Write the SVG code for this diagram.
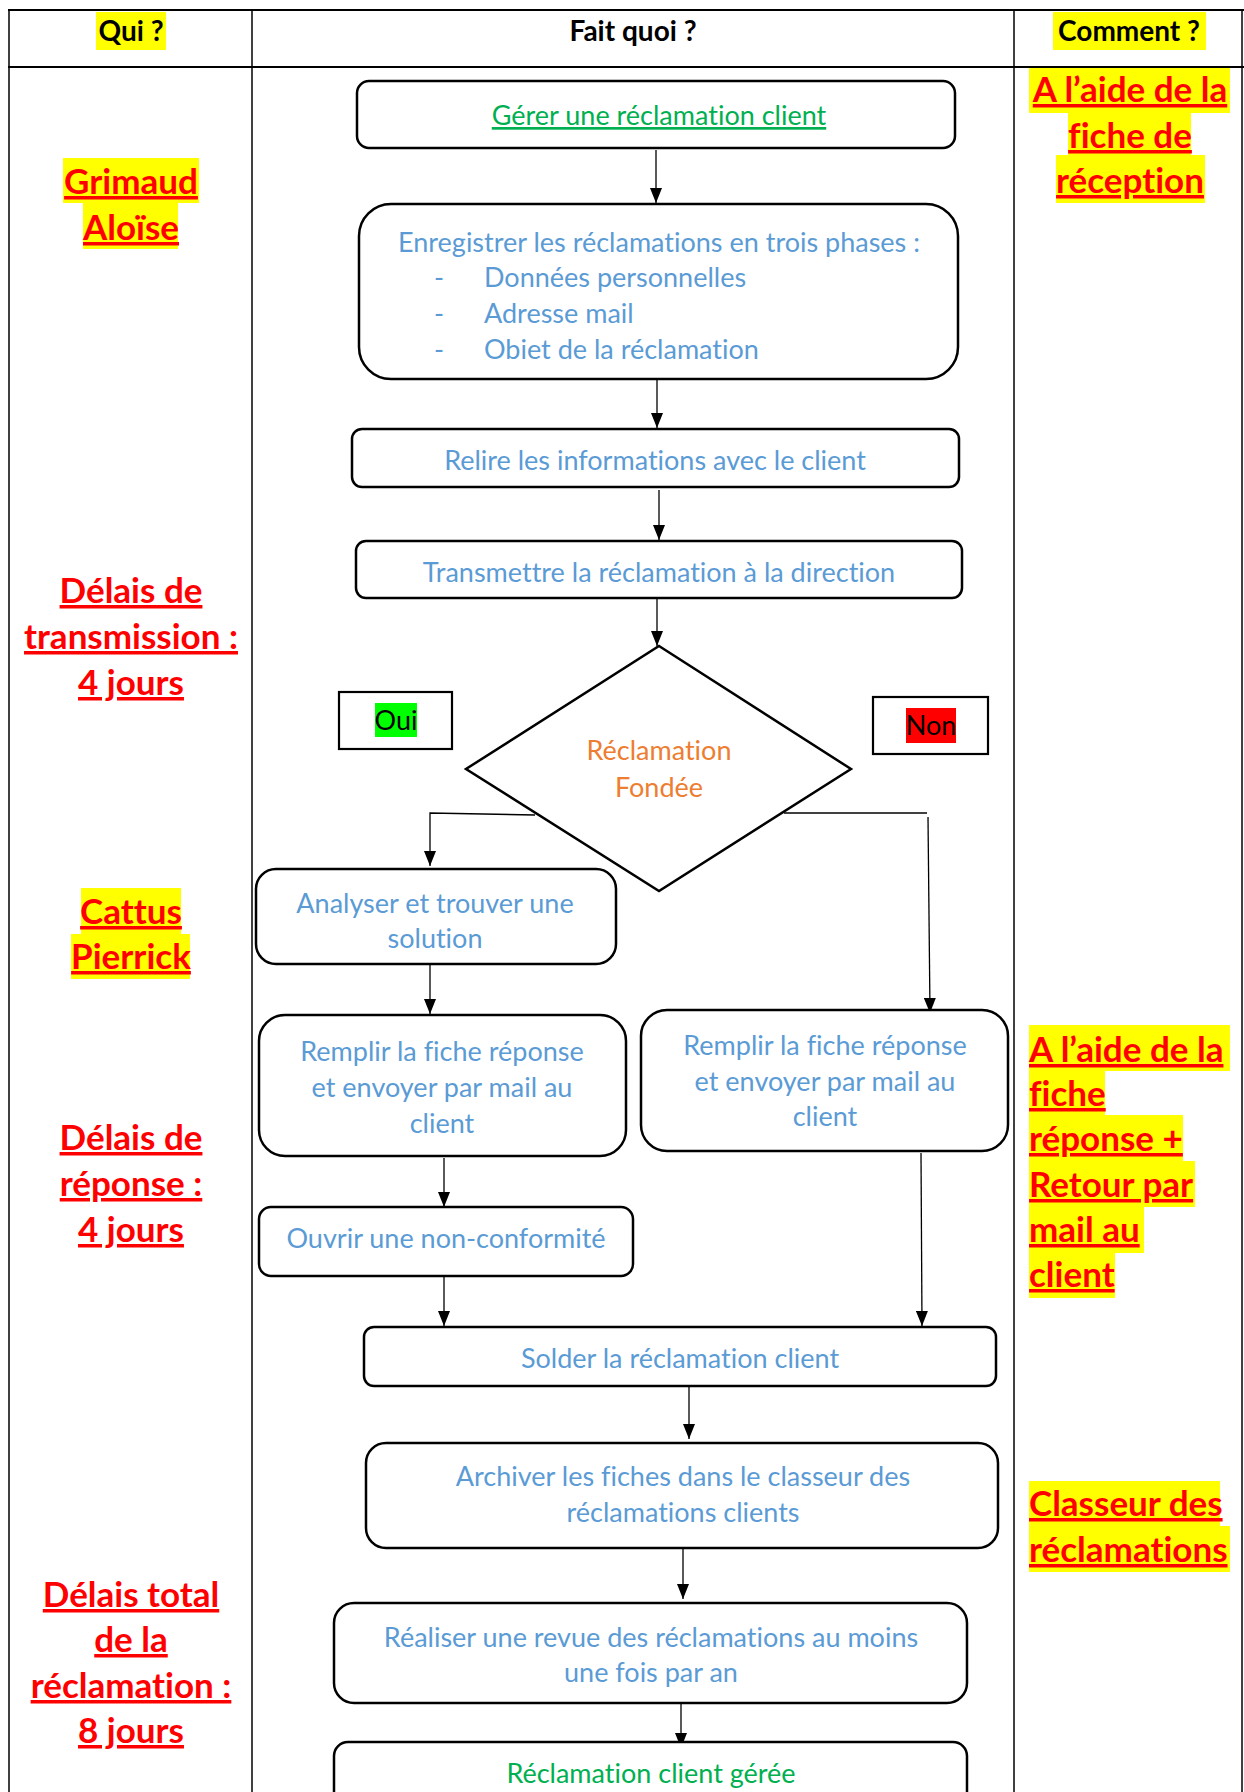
<svg xmlns="http://www.w3.org/2000/svg" width="1244" height="1792" viewBox="0 0 1244 1792">
<defs>
<style>
text{font-family:Lato,"Open Sans",sans-serif;font-variant-ligatures:none;font-feature-settings:"liga" 0,"dlig" 0}
.tl{stroke:#000;stroke-width:1.5;fill:none}
.th{stroke:#000;stroke-width:2.2;fill:none}
.box{fill:#fff;stroke:#000;stroke-width:2.5}
.lbl{fill:#fff;stroke:#000;stroke-width:2.2}
.bt{font-size:27px;fill:#5B9BD5;text-anchor:middle}
.bs{font-size:27px;fill:#5B9BD5;text-anchor:start}
.gt{font-size:27px;fill:#00B050;text-anchor:middle}
.ot{font-size:27px;fill:#ED7D31;text-anchor:middle}
.kt{font-size:27px;fill:#000;text-anchor:middle}
.hd{font-size:28px;font-weight:bold;fill:#000;text-anchor:middle}
.rt{font-size:35px;font-weight:bold;fill:#FF0000;text-decoration:underline;text-anchor:middle}
.rl{font-size:35px;font-weight:bold;fill:#FF0000;text-decoration:underline;text-anchor:start}
.hl{fill:#FFFF00}
.conn{stroke:#000;stroke-width:1.3;fill:none}
</style>
<marker id="ah" markerUnits="userSpaceOnUse" markerWidth="15" markerHeight="12" refX="15" refY="6" orient="auto" viewBox="0 0 15 12">
<path d="M0,0 L15,6 L0,12 z" fill="#000"/>
</marker>
</defs>
<rect width="1244" height="1792" fill="#fff"/>

<g id="table">
<line class="th" x1="8" y1="10" x2="1244" y2="10"/>
<line class="th" x1="8" y1="67" x2="1244" y2="67"/>
<line class="tl" x1="9" y1="10" x2="9" y2="1792"/>
<line class="tl" x1="252" y1="10" x2="252" y2="1792"/>
<line class="tl" x1="1014" y1="10" x2="1014" y2="1792"/>
<line class="tl" x1="1242" y1="10" x2="1242" y2="1792"/>
</g>

<g id="header">
<rect class="hl" x="96" y="12" width="70" height="38"/>
<text class="hd" x="131" y="41">Qui ?</text>
<text class="hd" x="633" y="41">Fait quoi ?</text>
<rect class="hl" x="1053" y="12" width="153" height="38"/>
<text class="hd" x="1129" y="41">Comment ?</text>
</g>

<g id="qui-grimaud">
<rect class="hl" x="63" y="158" width="136" height="45"/>
<rect class="hl" x="83" y="203" width="95" height="46"/>
<text class="rt" x="131" y="194">Grimaud</text>
<text class="rt" x="131" y="240">Aloïse</text>
</g>
<g id="qui-delai-transmission">
<text class="rt" x="131" y="603">Délais de</text>
<text class="rt" x="131" y="649">transmission :</text>
<text class="rt" x="131" y="695">4 jours</text>
</g>
<g id="qui-cattus">
<rect class="hl" x="81" y="888" width="100" height="46"/>
<rect class="hl" x="71" y="934" width="119" height="45"/>
<text class="rt" x="131" y="924">Cattus</text>
<text class="rt" x="131" y="969">Pierrick</text>
</g>
<g id="qui-delai-reponse">
<text class="rt" x="131" y="1150">Délais de</text>
<text class="rt" x="131" y="1196">réponse :</text>
<text class="rt" x="131" y="1242">4 jours</text>
</g>
<g id="qui-delai-total">
<text class="rt" x="131" y="1607">Délais total</text>
<text class="rt" x="131" y="1652">de la</text>
<text class="rt" x="131" y="1698">réclamation :</text>
<text class="rt" x="131" y="1743">8 jours</text>
</g>

<g id="comment-reception">
<rect class="hl" x="1029" y="68" width="201" height="45"/>
<rect class="hl" x="1068" y="113" width="123" height="42"/>
<rect class="hl" x="1056" y="155" width="149" height="48"/>
<text class="rt" x="1130" y="102">A l’aide de la</text>
<text class="rt" x="1130" y="148">fiche de</text>
<text class="rt" x="1130" y="193">réception</text>
</g>
<g id="comment-reponse">
<rect class="hl" x="1029" y="1025" width="201" height="46"/>
<rect class="hl" x="1029" y="1071" width="76" height="44"/>
<rect class="hl" x="1029" y="1115" width="154" height="46"/>
<rect class="hl" x="1029" y="1161" width="166" height="46"/>
<rect class="hl" x="1029" y="1207" width="115" height="46"/>
<rect class="hl" x="1029" y="1253" width="86" height="45"/>
<text class="rl" x="1029" y="1062">A l’aide de la</text>
<text class="rl" x="1029" y="1106">fiche</text>
<text class="rl" x="1029" y="1151">réponse +</text>
<text class="rl" x="1029" y="1197">Retour par</text>
<text class="rl" x="1029" y="1242">mail au</text>
<text class="rl" x="1029" y="1287">client</text>
</g>
<g id="comment-classeur">
<rect class="hl" x="1029" y="1481" width="191" height="45"/>
<rect class="hl" x="1029" y="1526" width="201" height="46"/>
<text class="rl" x="1029" y="1516">Classeur des</text>
<text class="rl" x="1029" y="1562">réclamations</text>
</g>

<g id="connectors">
<path class="conn" d="M656,150 V203" marker-end="url(#ah)"/>
<path class="conn" d="M657,380 V428" marker-end="url(#ah)"/>
<path class="conn" d="M659,490 V540" marker-end="url(#ah)"/>
<path class="conn" d="M657,598 V646" marker-end="url(#ah)"/>
<path class="conn" d="M535,815 L430,813 V866" marker-end="url(#ah)"/>
<path class="conn" d="M784,813 H927"/>
<path class="conn" d="M928,817 L930,1013" marker-end="url(#ah)"/>
<path class="conn" d="M430,965 V1014" marker-end="url(#ah)"/>
<path class="conn" d="M444,1158 V1207" marker-end="url(#ah)"/>
<path class="conn" d="M444,1277 V1326" marker-end="url(#ah)"/>
<path class="conn" d="M921,1153 L922,1326" marker-end="url(#ah)"/>
<path class="conn" d="M689,1386 V1439" marker-end="url(#ah)"/>
<path class="conn" d="M683,1549 V1599" marker-end="url(#ah)"/>
<path class="conn" d="M681,1702 V1748" marker-end="url(#ah)"/>
</g>

<g id="n-gerer">
<rect class="box" x="357" y="81" width="598" height="67" rx="12"/>
<text class="gt" x="659" y="125" text-decoration="underline">Gérer une réclamation client</text>
</g>
<g id="n-enregistrer">
<rect class="box" x="359" y="204" width="599" height="175" rx="32"/>
<text class="bt" x="659" y="252">Enregistrer les réclamations en trois phases :</text>
<text class="bt" x="439" y="287">-</text>
<text class="bt" x="439" y="323">-</text>
<text class="bt" x="439" y="359">-</text>
<text class="bs" x="484" y="287">Données personnelles</text>
<text class="bs" x="484" y="323">Adresse mail</text>
<text class="bs" x="484" y="359">Obiet de la réclamation</text>
</g>
<g id="n-relire">
<rect class="box" x="352" y="429" width="607" height="58" rx="10"/>
<text class="bt" x="655" y="470">Relire les informations avec le client</text>
</g>
<g id="n-transmettre">
<rect class="box" x="356" y="541" width="606" height="57" rx="10"/>
<text class="bt" x="659" y="582">Transmettre la réclamation à la direction</text>
</g>
<g id="n-decision">
<polygon class="box" points="659,646 851,769 659,891 466,769"/>
<text class="ot" x="659" y="760">Réclamation</text>
<text class="ot" x="659" y="797">Fondée</text>
</g>
<g id="n-oui">
<rect class="lbl" x="339" y="692" width="113" height="57"/>
<rect x="375" y="703" width="42" height="34" fill="#00FF00"/>
<text class="kt" x="396" y="730">Oui</text>
</g>
<g id="n-non">
<rect class="lbl" x="873" y="697" width="115" height="57"/>
<rect x="906" y="708" width="50" height="35" fill="#FF0000"/>
<text class="kt" x="931" y="735">Non</text>
</g>
<g id="n-analyser">
<rect class="box" x="256" y="869" width="360" height="95" rx="20"/>
<text class="bt" x="435" y="913">Analyser et trouver une</text>
<text class="bt" x="435" y="948">solution</text>
</g>
<g id="n-remplir-oui">
<rect class="box" x="259" y="1015" width="367" height="141" rx="26"/>
<text class="bt" x="442" y="1061">Remplir la fiche réponse</text>
<text class="bt" x="442" y="1097">et envoyer par mail au</text>
<text class="bt" x="442" y="1133">client</text>
</g>
<g id="n-remplir-non">
<rect class="box" x="641" y="1010" width="367" height="141" rx="26"/>
<text class="bt" x="825" y="1055">Remplir la fiche réponse</text>
<text class="bt" x="825" y="1091">et envoyer par mail au</text>
<text class="bt" x="825" y="1126">client</text>
</g>
<g id="n-ouvrir">
<rect class="box" x="259" y="1207" width="374" height="69" rx="12"/>
<text class="bt" x="446" y="1248">Ouvrir une non-conformité</text>
</g>
<g id="n-solder">
<rect class="box" x="364" y="1327" width="632" height="59" rx="10"/>
<text class="bt" x="680" y="1368">Solder la réclamation client</text>
</g>
<g id="n-archiver">
<rect class="box" x="366" y="1443" width="632" height="105" rx="20"/>
<text class="bt" x="683" y="1486">Archiver les fiches dans le classeur des</text>
<text class="bt" x="683" y="1522">réclamations clients</text>
</g>
<g id="n-revue">
<rect class="box" x="334" y="1603" width="633" height="100" rx="20"/>
<text class="bt" x="651" y="1647">Réaliser une revue des réclamations au moins</text>
<text class="bt" x="651" y="1682">une fois par an</text>
</g>
<g id="n-geree">
<rect class="box" x="334" y="1742" width="633" height="80" rx="14"/>
<text class="gt" x="651" y="1783">Réclamation client gérée</text>
</g>
</svg>
